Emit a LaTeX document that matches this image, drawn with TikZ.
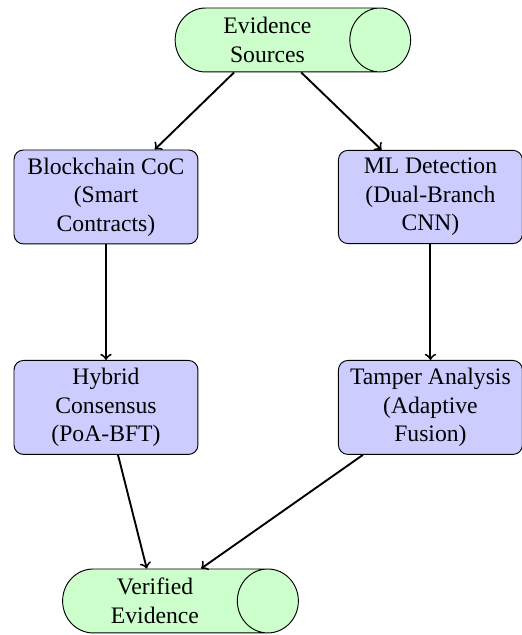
\documentclass[tikz,border=0pt]{standalone}
\usepackage{fontspec}
\setmainfont{Liberation Serif}
\usetikzlibrary{shapes.geometric}
\begin{document}
\begin{tikzpicture}[box/.style={rectangle,rounded corners,draw=black,fill=blue!20,text width=2.5cm,align=flush center},
		store/.style={cylinder,draw=black,fill=green!20,text width=2.2cm,minimum width=0.95cm,minimum height=0.95cm,align=flush center},
		flow/.style={->,thick}]
	\useasboundingbox (0,0) rectangle (7.743,-9.437);
	\node(src)[store] at (3.975,-0.594) {Evidence\\Sources};
	\node(coc)[box] at (1.575,-2.927) {Blockchain CoC\\(Smart\\Contracts)};
	\node(ml)[box] at (6.397,-2.927) {ML Detection\\(Dual-Branch\\CNN)};
	\node(cons)[box] at (1.575,-6.055) {Hybrid\\Consensus\\(PoA-BFT)};
	\node(tamp)[box] at (6.397,-6.055) {Tamper Analysis\\(Adaptive\\Fusion)};
	\node(ver)[store] at (2.303,-8.931) {Verified\\Evidence};
	\draw[flow] (src) -- (coc);
	\draw[flow] (src) -- (ml);
	\draw[flow] (coc) -- (cons);
	\draw[flow] (ml) -- (tamp);
	\draw[flow] (cons) -- (ver);
	\draw[flow] (tamp) -- (ver);
\end{tikzpicture}
\end{document}
